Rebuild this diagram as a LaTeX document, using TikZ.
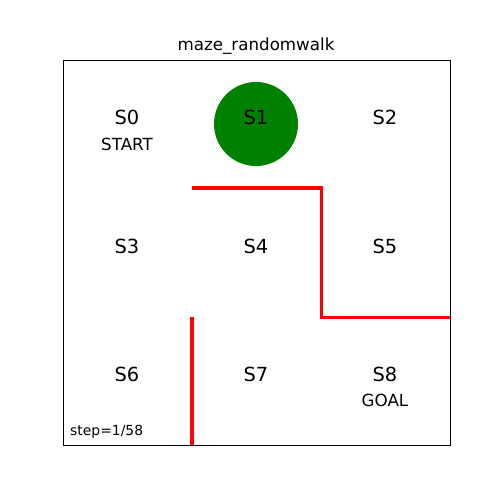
\documentclass[tikz,border=0pt]{standalone}
\usepackage{fontspec}
\setmainfont{DejaVu Sans}
\begin{document}
\begin{tikzpicture}[x=1pt,y=-1pt,
  lbl/.style={inner sep=0pt,font=\fontsize{19.4}{20}\selectfont},
  sub/.style={inner sep=0pt,font=\fontsize{16.7}{18}\selectfont},
  wall/.style={draw=red,line width=3.2pt},
  ax/.style={draw=black,line width=0.9pt}]
\useasboundingbox[fill=white] (0,0) rectangle (500,500);
\node[inner sep=0pt,font=\fontsize{16.7}{18}\selectfont] (title) at (256,46) {maze\_randomwalk};
\draw[ax] (63,60) rectangle (450,445);
\fill[fill={rgb,255:red,0;green,128;blue,0}] (256,124) circle[radius=42];
\coordinate (w1) at (192,188);
\coordinate (w2) at (321.5,188);
\coordinate (w3) at (321.5,317.3);
\coordinate (w4) at (450,317.3);
\coordinate (w5) at (192,317.3);
\coordinate (w6) at (192,445);
\draw[wall] (w1) -- (w2) -- (w3) -- (w4);
\draw[wall] (w5) -- (w6);
\node[lbl] (s0) at (127,117) {S0};
\node[lbl] (s1) at (256,117) {S1};
\node[lbl] (s2) at (385,117) {S2};
\node[lbl] (s3) at (127,246) {S3};
\node[lbl] (s4) at (256,246) {S4};
\node[lbl] (s5) at (385,246) {S5};
\node[lbl] (s6) at (127,374) {S6};
\node[lbl] (s7) at (256,374) {S7};
\node[lbl] (s8) at (385,374) {S8};
\node[sub] (start) at (127,144) {START};
\node[sub] (goal) at (385,400) {GOAL};
\node[inner sep=0pt,anchor=west,font=\fontsize{13.9}{15}\selectfont] (step) at (70,432) {step=1/58};
\end{tikzpicture}
\end{document}
